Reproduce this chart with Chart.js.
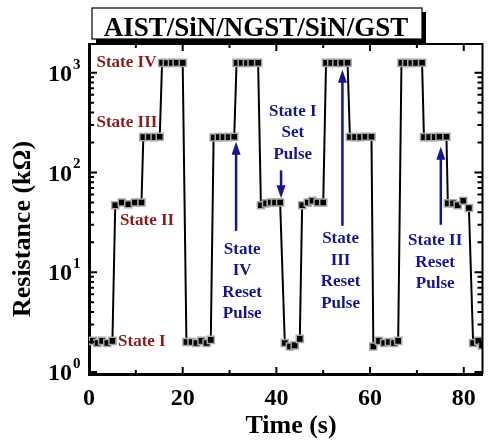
<!DOCTYPE html>
<html>
<head>
<meta charset="utf-8">
<script src="https://cdn.jsdelivr.net/npm/chart.js@4/dist/chart.umd.min.js"></script>
<style>
  html, body { margin: 0; padding: 0; background: #fff; }
  #wrap { width: 489px; height: 441px; }
</style>
</head>
<body>
<div id="wrap"><canvas id="resChart" width="489" height="441"></canvas></div>
<script>
// time in seconds
const time = [
  0.8, 1.8, 2.8, 3.9, 5.0,
  5.6, 7.0, 8.4, 9.8, 11.2,
  11.6, 12.8, 14.0, 15.1,
  15.6, 16.6, 17.7, 18.7, 20.0,
  20.8, 21.9, 22.9, 24.0, 25.1, 26.0,
  26.6, 27.7, 28.7, 29.8, 31.0,
  31.5, 32.6, 33.7, 34.7, 36.1,
  36.7, 37.8, 38.8, 39.7, 40.8,
  41.8, 42.9, 43.9, 45.0,
  45.5, 46.7, 47.7, 48.8, 50.0,
  50.6, 51.7, 52.8, 53.9, 55.2,
  55.7, 56.8, 57.9, 59.0, 60.3,
  60.7, 61.9, 63.0, 64.0, 65.1, 66.0,
  66.7, 67.7, 68.8, 69.8, 71.1,
  71.5, 72.6, 73.8, 74.8, 76.3,
  76.6, 77.7, 78.7, 79.9, 81.1,
  82.0, 83.1, 83.9
];

// resistance in kOhm
const resistance = [
  2.05, 1.95, 2.05, 1.95, 2.05,
  47, 50, 48, 50, 50,
  226, 227, 226, 228,
  1255, 1250, 1255, 1260, 1255,
  2.0, 2.0, 1.95, 2.05, 1.95, 2.1,
  224, 226, 226, 226, 228,
  1255, 1255, 1250, 1255, 1260,
  47, 49, 50, 50, 50,
  1.95, 1.8, 1.85, 2.15,
  47, 50, 52, 50, 50,
  1255, 1255, 1255, 1255, 1260,
  227, 226, 226, 228, 228,
  1.8, 2.05, 1.95, 2.0, 1.95, 2.05,
  1255, 1255, 1250, 1255, 1260,
  226, 226, 226, 228, 228,
  49, 49, 47, 52, 44,
  1.95, 2.05, 1.85
];

const xTicks = [0, 20, 40, 60, 80];
const yDecades = [0, 1, 2, 3];
const chartTitle = 'AIST/SiN/NGST/SiN/GST';
const xTitle = 'Time (s)';
const yTitle = 'Resistance (k\u03A9)';

// state labels (dark red), anchored in data coords
const stateNames = ['State IV', 'State III', 'State II', 'State I'];
const stateAt = [[14.4, 1256], [14.6, 313], [6.6, 32.7], [6.2, 2.03]];
const stateAlign = ['right', 'right', 'left', 'left'];

// pulse annotations (blue): text lines, first-line anchor, arrow tail/tip
const pulseText = [
  ['State', 'IV', 'Reset', 'Pulse'],
  ['State I', 'Set', 'Pulse'],
  ['State', 'III', 'Reset', 'Pulse'],
  ['State II', 'Reset', 'Pulse']
];
const pulseTextAt = [[32.7, 16.9], [43.5, 411], [53.7, 21.7], [73.9, 20.7]];
const pulseArrowX = [31.4, 41.0, 54.1, 75.1];
const pulseArrowFrom = [26.0, 105, 29.2, 29.9];
const pulseArrowTo = [203, 55.3, 1071, 181];

const serif = '"Liberation Serif", "Times New Roman", serif';
const red = '#8b1a1a';
const blue = '#16168c';

const decor = {
  id: 'decor',
  afterDraw(chart) {
    const ctx = chart.ctx;
    const xs = chart.scales.x, ys = chart.scales.y;
    const a = chart.chartArea;
    ctx.save();

    // top and right frame
    ctx.strokeStyle = '#000';
    ctx.lineWidth = 2;
    ctx.beginPath();
    ctx.moveTo(a.left, a.top);
    ctx.lineTo(a.right, a.top);
    ctx.lineTo(a.right, a.bottom);
    ctx.stroke();

    // inward ticks
    ctx.lineWidth = 2;
    ctx.beginPath();
    for (let t = 10; t <= 80; t += 10) {
      const px = xs.getPixelForValue(t);
      const len = t % 20 === 0 ? 7 : 4;
      ctx.moveTo(px, a.bottom); ctx.lineTo(px, a.bottom - len);
      ctx.moveTo(px, a.top); ctx.lineTo(px, a.top + len);
    }
    for (const d of yDecades) {
      for (let m = 1; m <= 9; m++) {
        const v = m * Math.pow(10, d);
        if (v < ys.min || v > ys.max) continue;
        const py = ys.getPixelForValue(v);
        const len = m === 1 ? 8 : 5;
        ctx.moveTo(a.left, py); ctx.lineTo(a.left + len, py);
        ctx.moveTo(a.right, py); ctx.lineTo(a.right - len, py);
      }
    }
    ctx.stroke();

    // y tick labels 10^n
    ctx.fillStyle = '#000';
    ctx.textBaseline = 'middle';
    for (const d of yDecades) {
      const py = ys.getPixelForValue(Math.pow(10, d));
      ctx.font = 'bold 24px ' + serif;
      ctx.textAlign = 'right';
      ctx.fillText('10', 72, py + 2);
      ctx.font = 'bold 15px ' + serif;
      ctx.textAlign = 'left';
      ctx.fillText(String(d), 73, py - 8);
    }

    // axis titles
    ctx.font = 'bold 26px ' + serif;
    ctx.textAlign = 'center';
    ctx.fillText(xTitle, 291, 426);
    ctx.save();
    ctx.translate(23, 229);
    ctx.rotate(-Math.PI / 2);
    ctx.font = 'bold 26px ' + serif;
    ctx.fillText(yTitle, 0, 0);
    ctx.restore();

    // title box with shadow
    ctx.fillStyle = '#000';
    ctx.fillRect(96, 12, 330, 31);
    ctx.fillStyle = '#fff';
    ctx.fillRect(92, 8, 330, 31);
    ctx.lineWidth = 1.2;
    ctx.strokeRect(92, 8, 330, 31);
    ctx.fillStyle = '#000';
    ctx.font = 'bold 27px ' + serif;
    ctx.textBaseline = 'alphabetic';
    ctx.fillText(chartTitle, 256, 36);

    // state labels
    ctx.font = 'bold 17px ' + serif;
    ctx.fillStyle = red;
    ctx.textBaseline = 'middle';
    stateNames.forEach((s, i) => {
      ctx.textAlign = stateAlign[i];
      ctx.fillText(s, xs.getPixelForValue(stateAt[i][0]), ys.getPixelForValue(stateAt[i][1]));
    });

    // pulse annotations
    ctx.fillStyle = blue;
    ctx.strokeStyle = blue;
    ctx.textAlign = 'center';
    pulseText.forEach((lines, i) => {
      const cx = xs.getPixelForValue(pulseTextAt[i][0]);
      const cy = ys.getPixelForValue(pulseTextAt[i][1]);
      lines.forEach((ln, k) => ctx.fillText(ln, cx, cy + k * 21.5));

      const ax = xs.getPixelForValue(pulseArrowX[i]);
      const y0 = ys.getPixelForValue(pulseArrowFrom[i]);
      const y1 = ys.getPixelForValue(pulseArrowTo[i]);
      const dir = y1 < y0 ? -1 : 1;
      ctx.lineWidth = 2.5;
      ctx.beginPath();
      ctx.moveTo(ax, y0);
      ctx.lineTo(ax, y1 - dir * 10);
      ctx.stroke();
      ctx.beginPath();
      ctx.moveTo(ax, y1);
      ctx.lineTo(ax - 4.5, y1 - dir * 13);
      ctx.lineTo(ax + 4.5, y1 - dir * 13);
      ctx.closePath();
      ctx.fill();
    });

    ctx.restore();
  }
};

new Chart(document.getElementById('resChart'), {
  type: 'line',
  data: {
    datasets: [{
      data: time.map((t, i) => ({ x: t, y: resistance[i] })),
      borderColor: '#000',
      borderWidth: 2,
      tension: 0,
      pointStyle: 'rect',
      pointRadius: 5,
      pointBackgroundColor: '#000',
      pointBorderColor: '#a8a8a8',
      pointBorderWidth: 1.5
    }]
  },
  options: {
    responsive: false,
    animation: false,
    devicePixelRatio: 1,
    layout: { padding: { top: 44, right: 4, left: 0, bottom: 0 } },
    plugins: { legend: { display: false }, tooltip: { enabled: false } },
    scales: {
      x: {
        type: 'linear',
        min: 0,
        max: 84,
        afterBuildTicks: s => { s.ticks = xTicks.map(v => ({ value: v })); },
        afterFit: s => { s.height = 67; },
        grid: { display: false },
        border: { display: true, width: 3, color: '#000' },
        ticks: {
          color: '#000',
          padding: 2,
          maxRotation: 0,
          font: { family: serif, size: 24, weight: 'bold' }
        }
      },
      y: {
        type: 'logarithmic',
        min: 0.955,
        max: 1940,
        afterFit: s => { s.width = 89; },
        grid: { display: false },
        border: { display: true, width: 3, color: '#000' },
        ticks: { display: false }
      }
    }
  },
  plugins: [decor]
});
</script>
</body>
</html>
